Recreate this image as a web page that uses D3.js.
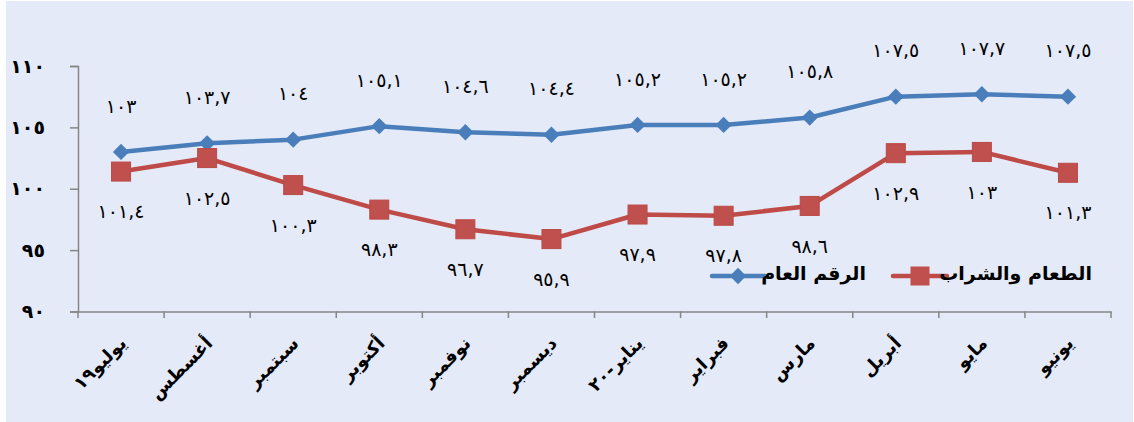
<!DOCTYPE html>
<html>
<head>
<meta charset="utf-8">
<script src="https://cdn.jsdelivr.net/npm/d3@7"></script>
<style>
  body { margin: 0; background: #fff; }
  text { font-family: "DejaVu Sans", sans-serif; }
</style>
</head>
<body>
<script>
// Chart data
const months = ["يوليو١٩", "أغسطس", "سبتمبر", "أكتوبر", "نوفمبر", "ديسمبر",
                "يناير-٢٠", "فبراير", "مارس", "أبريل", "مايو", "يونيو"];
const generalIndex = [103, 103.7, 104, 105.1, 104.6, 104.4, 105.2, 105.2, 105.8, 107.5, 107.7, 107.5];
const foodBeverages = [101.4, 102.5, 100.3, 98.3, 96.7, 95.9, 97.9, 97.8, 98.6, 102.9, 103, 101.3];
const yTicks = [90, 95, 100, 105, 110];
const seriesNames = ["الرقم العام", "الطعام والشراب"];

// Arabic-Indic digits
const arDigits = "٠١٢٣٤٥٦٧٨٩";
function toArabic(v) {
    return String(v).replace(/[0-9]/g, c => arDigits[+c]).replace(".", ",");
}

const W = 1134, H = 422;
const svg = d3.select("body").append("svg")
    .attr("width", W)
    .attr("height", H);

// Background
svg.append("rect")
    .attr("x", 6).attr("y", 1)
    .attr("width", W - 7).attr("height", H - 1)
    .attr("fill", "#E4EAF7");

// Scales
const xScale = d3.scaleBand()
    .domain(months)
    .range([78, 1111])
    .padding(0);

const yScale = d3.scaleLinear()
    .domain([90, 110])
    .range([311.5, 66]);

// Y axis
const yAxis = svg.append("g")
    .attr("transform", "translate(78,0)")
    .call(d3.axisLeft(yScale).tickValues(yTicks).tickSize(8).tickPadding(25).tickFormat(toArabic));
yAxis.select(".domain").attr("stroke", "#868686").attr("stroke-width", 1.5);
yAxis.selectAll(".tick line").attr("stroke", "#868686").attr("stroke-width", 1.5);
yAxis.selectAll(".tick text")
    .attr("font-size", 19)
    .attr("font-weight", "bold")
    .attr("fill", "#000");

// X axis
const xAxis = svg.append("g")
    .attr("transform", "translate(0,311.5)")
    .call(d3.axisBottom(xScale).tickSize(0).tickFormat(""));
xAxis.select(".domain").attr("stroke", "#868686").attr("stroke-width", 1.5);

// x tick marks between categories
const bounds = months.map(m => xScale(m)).concat([xScale.range()[1]]);
svg.append("g").selectAll("line")
    .data(bounds)
    .enter().append("line")
    .attr("x1", d => d).attr("x2", d => d)
    .attr("y1", 311.5).attr("y2", 318)
    .attr("stroke", "#868686")
    .attr("stroke-width", 1.5);

// x labels, rotated
svg.append("g").selectAll("text")
    .data(months)
    .enter().append("text")
    .attr("transform", d => "translate(" + (xScale(d) + xScale.bandwidth() / 2 + 2) + ",340) rotate(-45)")
    .attr("text-anchor", "end")
    .attr("dy", "0.35em")
    .attr("font-size", 18)
    .attr("font-weight", "bold")
    .attr("fill", "#000")
    .text(d => d);

const cx = (d, i) => xScale(months[i]) + xScale.bandwidth() / 2;

const line = d3.line()
    .x(cx)
    .y(d => yScale(d));

// Blue series
svg.append("path")
    .datum(generalIndex)
    .attr("fill", "none")
    .attr("stroke", "#4A7EBB")
    .attr("stroke-width", 4.5)
    .attr("stroke-linejoin", "round")
    .attr("d", line);

// Red series
svg.append("path")
    .datum(foodBeverages)
    .attr("fill", "none")
    .attr("stroke", "#BE4B48")
    .attr("stroke-width", 4.5)
    .attr("stroke-linejoin", "round")
    .attr("d", line);

// Markers
const diamond = d3.symbol().type(d3.symbolDiamond2).size(170);
svg.append("g").selectAll("path")
    .data(generalIndex)
    .enter().append("path")
    .attr("d", diamond)
    .attr("transform", (d, i) => "translate(" + cx(d, i) + "," + yScale(d) + ")")
    .attr("fill", "#4A7EBB");

svg.append("g").selectAll("rect")
    .data(foodBeverages)
    .enter().append("rect")
    .attr("x", (d, i) => cx(d, i) - 9.5)
    .attr("y", d => yScale(d) - 9.5)
    .attr("width", 19)
    .attr("height", 19)
    .attr("fill", "#C0504D")
    .attr("stroke", "#B94A47")
    .attr("stroke-width", 1);

// Data labels
svg.append("g").selectAll("text")
    .data(generalIndex)
    .enter().append("text")
    .attr("x", cx)
    .attr("y", d => yScale(d) - 46)
    .attr("text-anchor", "middle")
    .attr("dy", "0.35em")
    .attr("font-size", 19)
    .attr("fill", "#000")
    .text(toArabic);

svg.append("g").selectAll("text")
    .data(foodBeverages)
    .enter().append("text")
    .attr("x", cx)
    .attr("y", d => yScale(d) + 40)
    .attr("text-anchor", "middle")
    .attr("dy", "0.35em")
    .attr("font-size", 19)
    .attr("fill", "#000")
    .text(toArabic);

// Legend
const legend = svg.append("g");
legend.append("line")
    .attr("x1", 712).attr("x2", 765).attr("y1", 276).attr("y2", 276)
    .attr("stroke", "#4A7EBB").attr("stroke-width", 4.5).attr("stroke-linecap", "round");
legend.append("path")
    .attr("d", diamond)
    .attr("transform", "translate(738,276)")
    .attr("fill", "#4A7EBB");
legend.append("text")
    .attr("x", 866).attr("y", 273)
    .attr("text-anchor", "end")
    .attr("dy", "0.35em")
    .attr("font-size", 19)
    .attr("font-weight", "bold")
    .attr("fill", "#000")
    .text(seriesNames[0]);

legend.append("line")
    .attr("x1", 893).attr("x2", 947).attr("y1", 276).attr("y2", 276)
    .attr("stroke", "#BE4B48").attr("stroke-width", 4.5).attr("stroke-linecap", "round");
legend.append("rect")
    .attr("x", 920 - 9.5).attr("y", 276 - 9.5)
    .attr("width", 19).attr("height", 19)
    .attr("fill", "#C0504D");
legend.append("text")
    .attr("x", 1092).attr("y", 273)
    .attr("text-anchor", "end")
    .attr("dy", "0.35em")
    .attr("font-size", 19)
    .attr("font-weight", "bold")
    .attr("fill", "#000")
    .text(seriesNames[1]);
</script>
</body>
</html>
